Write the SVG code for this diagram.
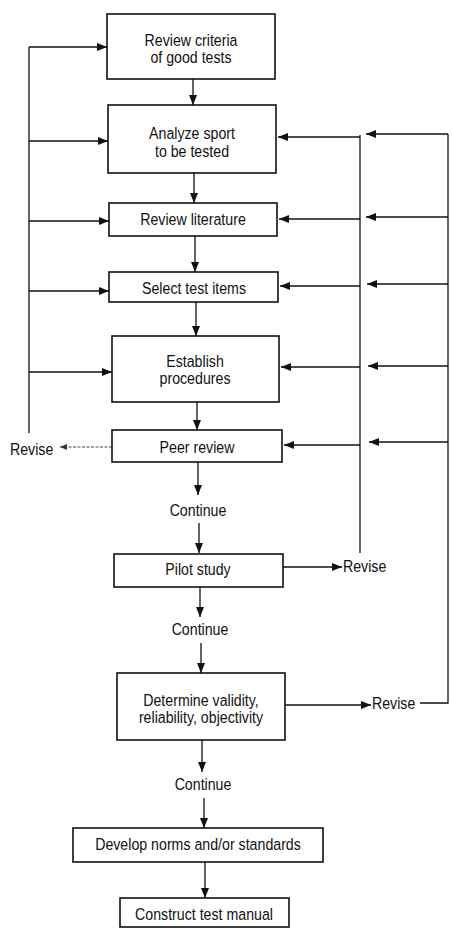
<svg xmlns="http://www.w3.org/2000/svg" width="452" height="929" viewBox="0 0 452 929">
<defs>
<marker id="ah" markerUnits="userSpaceOnUse" markerWidth="10" markerHeight="8" refX="10" refY="4" orient="auto">
<path d="M0,0 L10,4 L0,8 z" fill="#111"/>
</marker>
<marker id="ahs" markerUnits="userSpaceOnUse" markerWidth="7" markerHeight="6" refX="7" refY="3" orient="auto">
<path d="M0,0 L7,3 L0,6 z" fill="#333"/>
</marker>
<style>
.box{fill:#fff;stroke:#111;stroke-width:1.6}
.t{font-family:"Liberation Sans",Arial,sans-serif;font-size:16.5px;fill:#111;text-anchor:middle}
.tl{font-family:"Liberation Sans",Arial,sans-serif;font-size:16.5px;fill:#111}
.c{fill:none;stroke:#111;stroke-width:1.3}
.a{fill:none;stroke:#111;stroke-width:1.3;marker-end:url(#ah)}
.d{fill:none;stroke:#444;stroke-width:1;stroke-dasharray:3 1.5;marker-end:url(#ahs)}
</style>
</defs>
<rect width="452" height="929" fill="#fff"/>
<g id="connectors">
<path class="a" d="M193,79 V105"/>
<path class="a" d="M194,173 V203"/>
<path class="a" d="M195,236 V272"/>
<path class="a" d="M196,302 V336"/>
<path class="a" d="M197,402 V430"/>
<path class="a" d="M198,462 V495"/>
<path class="a" d="M199,523 V553"/>
<path class="a" d="M200,587 V617"/>
<path class="a" d="M201,643 V673"/>
<path class="a" d="M202,740 V772"/>
<path class="a" d="M204,798 V828"/>
<path class="a" d="M205,862 V898"/>
<path class="c" d="M29,47 V433"/>
<path class="a" d="M29,47 H107"/>
<path class="a" d="M29,141 H108"/>
<path class="a" d="M29,221 H109"/>
<path class="a" d="M29,291 H109"/>
<path class="a" d="M29,372 H112"/>
<path class="d" d="M112,447 H60"/>
<path class="c" d="M360,135 V553"/>
<path class="a" d="M360,137 H278"/>
<path class="a" d="M360,219 H279"/>
<path class="a" d="M360,286 H280"/>
<path class="a" d="M360,367 H281"/>
<path class="a" d="M360,445 H284"/>
<path class="c" d="M448,134 V703 H420"/>
<path class="a" d="M448,134 H366"/>
<path class="a" d="M448,217 H366"/>
<path class="a" d="M448,284 H367"/>
<path class="a" d="M448,366 H368"/>
<path class="a" d="M448,442 H369"/>
<path class="a" d="M283,567 H342"/>
<path class="a" d="M285,705 H371"/>
</g>
<g id="n1"><rect class="box" x="107" y="14" width="168" height="65"/><text class="t" transform="translate(191,46) scale(0.86,1)">Review criteria</text><text class="t" transform="translate(191,63) scale(0.86,1)">of good tests</text></g>
<g id="n2"><rect class="box" x="108" y="105" width="168" height="68"/><text class="t" transform="translate(192,139) scale(0.86,1)">Analyze sport</text><text class="t" transform="translate(192,157) scale(0.86,1)">to be tested</text></g>
<g id="n3"><rect class="box" x="109" y="203" width="168" height="33"/><text class="t" transform="translate(193,225) scale(0.86,1)">Review literature</text></g>
<g id="n4"><rect class="box" x="109" y="272" width="169" height="30"/><text class="t" transform="translate(194,294) scale(0.86,1)">Select test items</text></g>
<g id="n5"><rect class="box" x="112" y="336" width="167" height="66"/><text class="t" transform="translate(195,367) scale(0.86,1)">Establish</text><text class="t" transform="translate(195,384) scale(0.86,1)">procedures</text></g>
<g id="n6"><rect class="box" x="112" y="430" width="170" height="32"/><text class="t" transform="translate(197,453) scale(0.86,1)">Peer review</text></g>
<g id="revise1"><text class="tl" transform="translate(10,455) scale(0.86,1)">Revise</text></g>
<g id="cont1"><text class="t" transform="translate(198,516) scale(0.86,1)">Continue</text></g>
<g id="n7"><rect class="box" x="114" y="554" width="169" height="33"/><text class="t" transform="translate(198,575) scale(0.86,1)">Pilot study</text></g>
<g id="revise2"><text class="tl" transform="translate(343,572) scale(0.86,1)">Revise</text></g>
<g id="cont2"><text class="t" transform="translate(200,635) scale(0.86,1)">Continue</text></g>
<g id="n8"><rect class="box" x="117" y="673" width="168" height="67"/><text class="t" transform="translate(201,706) scale(0.86,1)">Determine validity,</text><text class="t" transform="translate(201,723) scale(0.86,1)">reliability, objectivity</text></g>
<g id="revise3"><text class="tl" transform="translate(372,709) scale(0.86,1)">Revise</text></g>
<g id="cont3"><text class="t" transform="translate(203,790) scale(0.86,1)">Continue</text></g>
<g id="n9"><rect class="box" x="73" y="828" width="250" height="34"/><text class="t" transform="translate(198,850) scale(0.86,1)">Develop norms and/or standards</text></g>
<g id="n10"><rect class="box" x="120" y="898" width="169" height="29"/><text class="t" transform="translate(204,920) scale(0.86,1)">Construct test manual</text></g>
</svg>
